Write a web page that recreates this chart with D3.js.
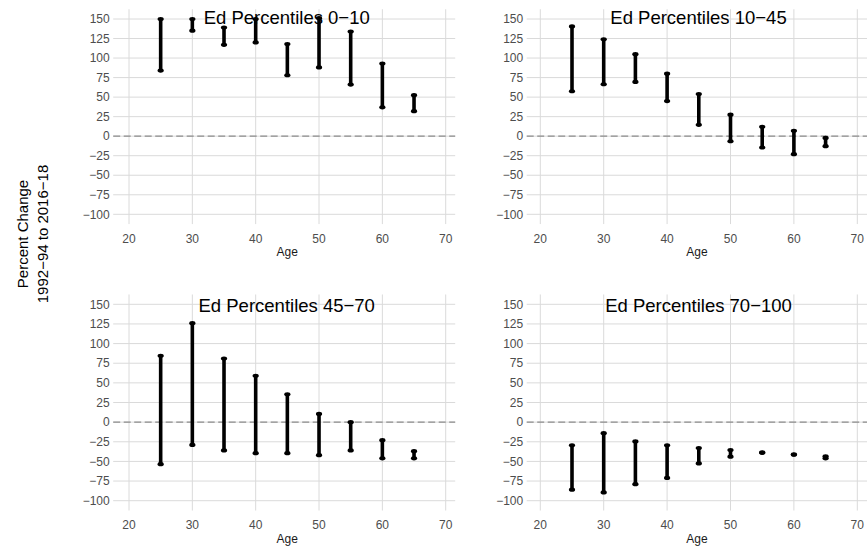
<!DOCTYPE html>
<html>
<head>
<meta charset="utf-8">
<script src="https://cdn.jsdelivr.net/npm/d3@7"></script>
<style>
  html, body { margin: 0; padding: 0; background: #ffffff; }
  svg { display: block; font-family: "Liberation Sans", Arial, Helvetica, sans-serif; }
</style>
</head>
<body>
<svg id="chart" width="867" height="549"></svg>
<script>
// Age groups on the x axis
const ages = [25, 30, 35, 40, 45, 50, 55, 60, 65];

// Panel titles (education percentile groups)
const panelTitles = [
  "Ed Percentiles 0\u221210",
  "Ed Percentiles 10\u221245",
  "Ed Percentiles 45\u221270",
  "Ed Percentiles 70\u2212100"
];

// Range of percent change, 1992-94 to 2016-18, per age group
const low0to10   = [84, 135, 117, 120, 78, 88, 66, 37, 32];
const high0to10  = [150, 150, 139, 150, 118, 151, 134, 93, 52.5];
const low10to45  = [57.5, 66.5, 69.5, 45, 14.5, -6.5, -14.5, -23, -12.8];
const high10to45 = [140.5, 124, 105, 80, 54, 27.5, 12, 6.8, -2.2];
const low45to70  = [-53.5, -29, -36, -39.5, -39.5, -42, -36, -46, -46];
const high45to70 = [84.5, 126, 81, 59, 35.5, 10.5, 0, -23, -37];
const low70to100  = [-86, -89.5, -79, -71, -52.5, -44, -39, -41.5, -46];
const high70to100 = [-29.5, -14, -24.5, -29.5, -33, -35.5, -38.5, -41, -43.5];

// Axis ticks
const xTicks = [20, 30, 40, 50, 60, 70];
const yTicks = [-100, -75, -50, -25, 0, 25, 50, 75, 100, 125, 150];

const lows  = [low0to10, low10to45, low45to70, low70to100];
const highs = [high0to10, high10to45, high45to70, high70to100];

// Column / row placement of the four small multiples
const cols = [
  { x20: 129, x70: 445.7, left: 113.2, right: 455.2, titleX: 286.7, ageX: 287.3 },
  { x20: 540.3, x70: 857.3, left: 526.7, right: 870, titleX: 698.5, ageX: 697 }
];
const rows = [
  { yTop: 19, yBot: 214.3, titleY: 24, tickY: 243.3, ageY: 256 },
  { yTop: 304.3, yBot: 500.7, titleY: 311.7, tickY: 529.3, ageY: 542.7 }
];

const svg = d3.select("#chart");

panelTitles.forEach((title, i) => {
  const c = cols[i % 2], r = rows[Math.floor(i / 2)];
  const x = d3.scaleLinear().domain([20, 70]).range([c.x20, c.x70]);
  const y = d3.scaleLinear().domain([-100, 150]).range([r.yBot, r.yTop]);
  const pad = 12.5; // 5% expansion of the y range
  const top = y(150 + pad), bottom = y(-100 - pad);

  const g = svg.append("g");

  // Grid
  g.selectAll("line.hgrid").data(yTicks).join("line")
    .attr("x1", c.left).attr("x2", c.right)
    .attr("y1", d => y(d)).attr("y2", d => y(d))
    .attr("stroke", "#dadada").attr("stroke-width", 1);
  g.selectAll("line.vgrid").data(xTicks).join("line")
    .attr("x1", d => x(d)).attr("x2", d => x(d))
    .attr("y1", top).attr("y2", bottom)
    .attr("stroke", "#dadada").attr("stroke-width", 1);

  // Zero reference
  g.append("line")
    .attr("x1", c.left).attr("x2", c.right)
    .attr("y1", y(0)).attr("y2", y(0))
    .attr("stroke", "#8c8c8c").attr("stroke-width", 1.2)
    .attr("stroke-dasharray", "7,3.5");

  // Tick labels
  g.selectAll("text.ylab").data(yTicks).join("text")
    .attr("x", c.left - 3.5).attr("y", d => y(d)).attr("dy", "0.35em")
    .attr("text-anchor", "end").attr("font-size", 12).attr("fill", "#4d4d4d")
    .text(d => d < 0 ? "\u2212" + Math.abs(d) : d);
  g.selectAll("text.xlab").data(xTicks).join("text")
    .attr("x", d => x(d)).attr("y", r.tickY)
    .attr("text-anchor", "middle").attr("font-size", 12).attr("fill", "#4d4d4d")
    .text(d => d);

  // Axis title
  g.append("text").attr("x", c.ageX).attr("y", r.ageY)
    .attr("text-anchor", "middle").attr("font-size", 12).attr("fill", "#1a1a1a")
    .text("Age");

  // Ranges
  const data = ages.map((a, k) => ({ age: a, lo: lows[i][k], hi: highs[i][k] }));
  g.selectAll("line.range").data(data).join("line")
    .attr("x1", d => x(d.age)).attr("x2", d => x(d.age))
    .attr("y1", d => y(d.lo)).attr("y2", d => y(d.hi))
    .attr("stroke", "#000").attr("stroke-width", 3.6);
  const ends = data.flatMap(d => [{ age: d.age, v: d.lo }, { age: d.age, v: d.hi }]);
  g.selectAll("ellipse.end").data(ends).join("ellipse")
    .attr("cx", d => x(d.age)).attr("cy", d => y(d.v))
    .attr("rx", 3.1).attr("ry", 2.1).attr("fill", "#000");

  // Panel title
  g.append("text").attr("x", c.titleX).attr("y", r.titleY)
    .attr("text-anchor", "middle").attr("font-size", 18.5).attr("fill", "#000")
    .text(title);
});

// Shared y-axis title
const yTitle = ["Percent Change", "1992\u221294 to 2016\u221218"];
yTitle.forEach((t, k) => {
  svg.append("text")
    .attr("transform", `translate(${28.3 + k * 20},234) rotate(-90)`)
    .attr("text-anchor", "middle").attr("font-size", 15).attr("fill", "#000")
    .text(t);
});
</script>
</body>
</html>
